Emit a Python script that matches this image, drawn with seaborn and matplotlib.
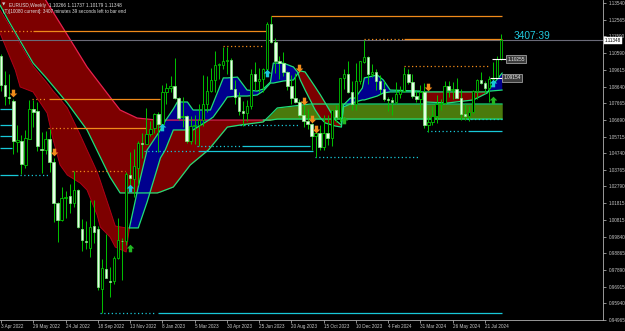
import matplotlib
matplotlib.use("Agg")
import numpy as np
import pandas as pd
import matplotlib.pyplot as plt
from matplotlib.path import Path
import seaborn as sns

# ---------------- data ----------------
opens = [1.1046,1.0876,1.0805,1.0780,1.0540,1.0546,1.0405,1.0560,1.0735,1.0720,
         1.0500,1.0490,1.0555,1.0425,1.0180,1.0083,1.0210,1.0225,1.0180,1.0257,
         1.0030,0.9960,0.9920,1.0045,1.0030,0.9680,0.9795,0.9725,0.9725,0.9860,
         0.9960,0.9960,1.0345,1.0320,1.0390,1.0535,1.0530,1.0585,1.0620,1.0705,
         1.0645,1.0830,1.0855,1.0870,1.0795,1.0685,1.0690,1.0545,1.0635,1.0640,
         1.0670,1.0760,1.0840,1.0900,1.0990,1.0990,1.1015,1.1020,1.0850,1.0805,
         1.0720,1.0710,1.0750,1.0940,1.0895,1.0910,1.0965,1.1230,1.1125,1.1015,
         1.1005,1.0950,1.0870,1.0795,1.0775,1.0700,1.0660,1.0645,1.0575,1.0590,
         1.0510,1.0595,1.0565,1.0725,1.0685,1.0915,1.0940,1.0835,1.0760,1.0895,
         1.1010,1.1040,1.0940,1.0950,1.0895,1.0850,1.0790,1.0785,1.0775,1.0820,
         1.0840,1.0940,1.0890,1.0810,1.0790,1.0835,1.0640,1.0655,1.0690,1.0760,
         1.0770,1.0870,1.0845,1.0850,1.0800,1.0705,1.0690,1.0715,1.0840,1.0905,
         1.0885,1.0855,1.0910,1.0915,1.10266]
highs = [1.1054,1.0955,1.0936,1.0794,1.0642,1.0578,1.0607,1.0788,1.0786,1.0774,
         1.0601,1.0605,1.0615,1.0444,1.0186,1.0278,1.0254,1.0293,1.0368,1.0266,
         1.0090,1.0079,1.0198,1.0197,1.0050,0.9853,0.9999,0.9808,0.9870,1.0093,
         0.9976,1.0364,1.0480,1.0497,1.0545,1.0595,1.0736,1.0660,1.0710,1.0715,
         1.0875,1.0888,1.0929,1.1032,1.0805,1.0805,1.0695,1.0690,1.0700,1.0760,
         1.0930,1.0926,1.0973,1.1075,1.1000,1.1095,1.1095,1.1030,1.0905,1.0830,
         1.0780,1.0785,1.0970,1.1010,1.0975,1.0975,1.1245,1.1276,1.1150,1.1045,
         1.1065,1.0955,1.0930,1.0945,1.0790,1.0770,1.0735,1.0650,1.0620,1.0640,
         1.0695,1.0695,1.0725,1.0755,1.0915,1.0965,1.1017,1.0895,1.1005,1.1015,
         1.1140,1.1045,1.0998,1.0965,1.0935,1.0895,1.0805,1.0805,1.0890,1.0865,
         1.0980,1.0965,1.0940,1.0840,1.0875,1.0885,1.0690,1.0753,1.0812,1.0790,
         1.0895,1.0895,1.0890,1.0915,1.0850,1.0760,1.0750,1.0845,1.0910,1.0948,
         1.0895,1.0925,1.1010,1.1045,1.11737]
lows = [1.0837,1.0757,1.0760,1.0472,1.0483,1.0350,1.0390,1.0556,1.0627,1.0484,
        1.0359,1.0470,1.0365,1.0072,0.9952,1.0077,1.0096,1.0123,1.0160,1.0035,
        0.9900,0.9910,0.9864,0.9945,0.9670,0.9536,0.9740,0.9632,0.9705,0.9855,
        0.9730,0.9935,1.0271,1.0220,1.0290,1.0443,1.0525,1.0575,1.0590,1.0482,
        1.0645,1.0765,1.0835,1.0790,1.0670,1.0630,1.0535,1.0530,1.0525,1.0516,
        1.0635,1.0713,1.0835,1.0835,1.0910,1.0965,1.0940,1.0850,1.0760,1.0700,
        1.0635,1.0665,1.0730,1.0845,1.0835,1.0835,1.0965,1.1120,1.0945,1.0910,
        1.0925,1.0845,1.0765,1.0770,1.0685,1.0630,1.0615,1.0490,1.0450,1.0495,
        1.0495,1.0520,1.0515,1.0655,1.0655,1.0850,1.0825,1.0725,1.0725,1.0880,
        1.1000,1.0880,1.0920,1.0845,1.0820,1.0780,1.0720,1.0695,1.0760,1.0795,
        1.0835,1.0880,1.0800,1.0775,1.0725,1.0622,1.0601,1.0640,1.0650,1.0725,
        1.0765,1.0805,1.0790,1.0800,1.0670,1.0670,1.0665,1.0710,1.0790,1.0880,
        1.0825,1.0775,1.0880,1.0915,1.10179]
closes = [1.0876,1.0808,1.0798,1.0545,1.0551,1.0413,1.0562,1.0732,1.0718,1.0518,
          1.0494,1.0555,1.0425,1.0184,1.0081,1.0212,1.0220,1.0181,1.0259,1.0039,
          0.9966,0.9953,1.0040,1.0015,0.9690,0.9801,0.9740,0.9722,0.9861,0.9966,
          0.9958,1.0354,1.0326,1.0397,1.0535,1.0530,1.0585,1.0615,1.0705,1.0645,
          1.0830,1.0855,1.0870,1.0795,1.0680,1.0694,1.0545,1.0635,1.0640,1.0670,
          1.0760,1.0840,1.0900,1.0990,1.0990,1.1015,1.1020,1.0850,1.0805,1.0720,
          1.0710,1.0750,1.0940,1.0895,1.0910,1.0965,1.1230,1.1125,1.1015,1.1005,
          1.0950,1.0870,1.0795,1.0775,1.0700,1.0660,1.0645,1.0575,1.0590,1.0510,
          1.0595,1.0565,1.0725,1.0685,1.0915,1.0940,1.0835,1.0760,1.0895,1.1015,
          1.1040,1.0940,1.0950,1.0895,1.0850,1.0790,1.0785,1.0775,1.0820,1.0840,
          1.0940,1.0890,1.0810,1.0790,1.0835,1.0640,1.0655,1.0690,1.0760,1.0770,
          1.0870,1.0845,1.0850,1.0800,1.0705,1.0690,1.0715,1.0840,1.0905,1.0885,
          1.0855,1.0910,1.0915,1.1025,1.11348]
weeks = list(range(len(opens)))

# slow cloud
slow_week = [-0.3,1.7,7.9,11.0,14.1,16.4,21.3,27.0,29.5,33.7,38.7,39.5,42.7,46.9,
             51.4,56.1,59.3,65.0,66.8,68.5,76.7,124.3]
slow_line1 = [1.1782,1.1711,1.1483,1.1372,1.1254,1.1167,1.0979,1.0803,1.0727,1.0680,
              1.0668,1.0668,1.0668,1.0668,1.0668,1.0668,1.0668,1.0668,1.0668,1.0674,
              1.0674,1.0674]
slow_line2 = [1.1342,1.1254,1.1002,1.0920,1.0833,1.0768,1.0610,1.0334,1.0241,1.0241,
              1.0241,1.0247,1.0276,1.0405,1.0493,1.0627,1.0639,1.0657,1.0698,1.0739,
              1.0762,1.0762]

# fast cloud
fast_week = [-0.3,3.5,4.7,7.9,11.4,12.9,14.6,16.4,19.6,21.3,
             22.8,23.8,24.6,27.0,28.3,31.0,31.8,34.0,36.2,39.5,
             40.7,42.7,43.7,46.2,47.6,51.9,52.6,55.1,56.1,58.6,
             61.0,63.5,65.0,66.8,67.5,70.0,72.5,73.5,74.2,75.4,
             77.9,79.2,80.4,82.9,84.4,84.9,86.6,87.8,89.6,90.1,
             93.3,94.8,96.5,104.0,105.2,110.7,117.1,120.6,121.3,124.3]
fast_line1 = [1.1178,1.0961,1.0862,1.0833,1.0709,1.0551,1.0405,1.0346,1.0299,1.0258,
              1.0170,1.0112,1.0041,0.9983,0.9924,0.9895,1.0036,1.0276,1.0493,1.0610,
              1.0663,1.0733,1.0774,1.0774,1.0727,1.0727,1.0768,1.0915,1.0915,1.0920,
              1.0844,1.0838,1.0850,1.0891,1.1002,1.1002,1.0979,1.0950,1.0903,1.0844,
              1.0727,1.0680,1.0651,1.0633,1.0627,1.0756,1.0797,1.0797,1.0856,1.0915,
              1.0932,1.0903,1.0844,1.0838,1.0774,1.0768,1.0786,1.0827,1.0856,1.0944]
fast_line2 = [1.1313,1.1167,1.1114,1.0985,1.0885,1.0838,1.0792,1.0739,1.0581,1.0493,
              1.0416,1.0364,1.0311,1.0141,1.0047,1.0036,1.0036,1.0036,1.0188,1.0446,
              1.0493,1.0610,1.0610,1.0610,1.0610,1.0674,1.0686,1.0768,1.0803,1.0809,
              1.0809,1.0815,1.0838,1.0885,1.0885,1.0897,1.0903,1.0938,1.0956,1.0950,
              1.0862,1.0815,1.0768,1.0668,1.0639,1.0745,1.0762,1.0774,1.0786,1.0786,
              1.0809,1.0827,1.0833,1.0833,1.0833,1.0833,1.0833,1.0833,1.0838,1.0844]

# resistance (orange) and support (cyan) levels
res_dot_price = [1.1190,1.1102,1.1143,1.0985,1.0791,1.0622,1.0370]
res_dot_from  = [-0.3,55.0,90.0,100.0,7.7,11.7,17.6]
res_dot_to    = [7.7,65.0,99.8,121.3,11.4,17.6,30.8]
res_sol_price = [1.1190,1.1276,1.1143,1.0791,1.0622]
res_sol_from  = [7.9,67.0,100.0,11.9,17.9]
res_sol_to    = [66.2,124.3,124.3,39.5,36.0]

sup_dot_price = [1.0346,0.9538,1.0487,1.0516,1.0639,1.0452,1.0604,1.0674]
sup_dot_from  = [4.7,24.6,35.5,48.6,59.3,77.9,105.7,115.6]
sup_dot_to    = [12.2,38.2,48.0,59.3,73.7,104.0,115.6,124.3]
sup_sol_price = [1.0733,1.0639,1.0575,1.0504,1.0346,0.9538,1.0487,1.0516,1.0604]
sup_sol_from  = [-0.3,-0.3,-0.3,-0.3,-0.3,39.0,48.9,59.8,115.9]
sup_sol_to    = [2.7,2.7,2.7,2.7,4.2,124.3,77.4,76.7,124.3]

# signal arrows
sell_week = [3,13,74,75,77,78,106]
sell_price = [1.0827,1.0481,1.0973,1.0780,1.0674,1.0616,1.0862]
buy_week = [32,40,66,122]
buy_price = [1.0270,1.0627,1.0944,1.0885]
buy2_week = [32,85,122]
buy2_price = [0.9918,1.0668,1.0786]

# price tags
tag_price = [1.10255,1.09154]
tag_from = [121.8,121.3]
tag_to = [125.3,124.3]
tag_text = ["1.10255","1.09154"]

current_price = 1.11348
tick_prices = [1.13540,1.12565,1.11590,1.10590,1.09615,1.08640,1.07665,1.06690,
               1.05715,1.04740,1.03765,1.02790,1.01815,1.00815,0.99840,0.98865,
               0.97890,0.96915,0.95940,0.94965]
date_weeks = [0,8,16,24,32,40,48,56,64,72,80,88,96,104,112,120]
date_labels = ["3 Apr 2022","29 May 2022","24 Jul 2022","18 Sep 2022","13 Nov 2022",
               "8 Jan 2023","5 Mar 2023","30 Apr 2023","25 Jun 2023","20 Aug 2023",
               "15 Oct 2023","10 Dec 2023","4 Feb 2024","31 Mar 2024","26 May 2024",
               "21 Jul 2024"]
header1 = "EURUSD,Weekly  1.10266 1.11737 1.10179 1.11348"
header2 = "(T)[10080 current]: 3407 minutes 39 seconds left to bar end"
timer_text = "3407:39"

# ---------------- style ----------------
sns.set_theme(style="dark", rc={"axes.facecolor": "black", "figure.facecolor": "black",
                                 "savefig.facecolor": "black", "axes.grid": False})
plt.rcParams['font.family'] = ['Liberation Sans', 'DejaVu Sans']

RED_FILL = "#7d0000"
BLUE_FILL = "#00008e"
OLIVE_FILL = "#4a7a0c"
EDGE_GREEN = "#1ee07a"
EDGE_RED = "#e8204e"
ORANGE = "#f08a1a"
CYAN = "#18c8d8"

# block-arrow marker shapes
DOWN_ARROW = Path([(-0.22, 0.5), (0.22, 0.5), (0.22, 0.0), (0.5, 0.0), (0.0, -0.5),
                   (-0.5, 0.0), (-0.22, 0.0), (-0.22, 0.5)], closed=True)
UP_ARROW = Path([(-0.22, -0.5), (0.22, -0.5), (0.22, 0.0), (0.5, 0.0), (0.0, 0.5),
                 (-0.5, 0.0), (-0.22, 0.0), (-0.22, -0.5)], closed=True)

fig = plt.figure(figsize=(6.25, 3.31), dpi=100)
ax = fig.add_axes([0, 11/331, 603/625, 320/331])
ax.set_facecolor("black")

# slow cloud
sw = np.array(slow_week); s1 = np.array(slow_line1); s2 = np.array(slow_line2)
ax.fill_between(sw, s1, s2, where=s1 >= s2, interpolate=True, color=RED_FILL, lw=0, zorder=1)
ax.fill_between(sw, s1, s2, where=s1 < s2, interpolate=True, color=OLIVE_FILL, lw=0, zorder=1)
df_s = pd.DataFrame({"w": sw, "l1": s1, "l2": s2})
red_part = df_s[df_s.w <= 66.8]
green_part = df_s[df_s.w >= 65.0]
sns.lineplot(data=red_part, x="w", y="l1", ax=ax, color=EDGE_RED, lw=0.9, estimator=None, sort=False, zorder=2)
sns.lineplot(data=green_part, x="w", y="l1", ax=ax, color=EDGE_GREEN, lw=0.9, estimator=None, sort=False, zorder=2)
sns.lineplot(data=df_s, x="w", y="l2", ax=ax, color=EDGE_GREEN, lw=0.9, estimator=None, sort=False, zorder=2)

# fast cloud
fw = np.array(fast_week); f1 = np.array(fast_line1); f2 = np.array(fast_line2)
ax.fill_between(fw, f1, f2, where=f1 <= f2, interpolate=True, color=RED_FILL, lw=0, zorder=1.5)
ax.fill_between(fw, f1, f2, where=f1 > f2, interpolate=True, color=BLUE_FILL, lw=0, zorder=1.5)
df_f = pd.DataFrame({"w": fw, "l1": f1, "l2": f2})
early = df_f[df_f.w <= 31.8]
late = df_f[df_f.w >= 31.8]
sns.lineplot(data=early, x="w", y="l1", ax=ax, color="#b00018", lw=0.7, estimator=None, sort=False, zorder=2)
sns.lineplot(data=early, x="w", y="l2", ax=ax, color="#b00018", lw=0.7, estimator=None, sort=False, zorder=2)
sns.lineplot(data=late, x="w", y="l1", ax=ax, color=EDGE_GREEN, lw=0.9, estimator=None, sort=False, zorder=2)
sns.lineplot(data=late, x="w", y="l2", ax=ax, color=EDGE_GREEN, lw=0.9, estimator=None, sort=False, zorder=2)

# levels
DOT = (0, (1, 2))
ax.hlines(res_dot_price, res_dot_from, res_dot_to, colors=ORANGE, lw=0.9, linestyles=[DOT], zorder=3)
ax.hlines(res_sol_price, res_sol_from, res_sol_to, colors=ORANGE, lw=0.9, zorder=3)
ax.hlines(sup_dot_price, sup_dot_from, sup_dot_to, colors=CYAN, lw=0.9, linestyles=[DOT], zorder=3)
ax.hlines(sup_sol_price, sup_sol_from, sup_sol_to, colors=CYAN, lw=0.9, zorder=3)

# current price line
ax.axhline(current_price, color="#6a6a78", lw=0.8, zorder=2.5)

# candles
o = np.array(opens); h = np.array(highs); l = np.array(lows); c = np.array(closes)
w = np.array(weeks)
ax.vlines(w, l, h, colors="#00c400", lw=0.7, zorder=4)
bull = c >= o
bw = 0.6
body_lo = np.minimum(o, c)
body_h = np.maximum(np.abs(c - o), 0.0004)
ax.bar(w[bull], body_h[bull], bottom=body_lo[bull], width=bw, color="black",
       edgecolor="#00c400", linewidth=0.6, zorder=5)
ax.bar(w[~bull], body_h[~bull], bottom=body_lo[~bull], width=bw, color="#e6ffe6",
       edgecolor="#80f080", linewidth=0.5, zorder=5)

# arrows
ax.scatter(sell_week, sell_price, marker=DOWN_ARROW, s=30, color=ORANGE, linewidths=0, zorder=6)
ax.scatter(buy_week, buy_price, marker=UP_ARROW, s=30, color=CYAN, linewidths=0, zorder=6)
ax.scatter(buy2_week, buy2_price, marker=UP_ARROW, s=30, color="#22b822", linewidths=0, zorder=6)

# price tags
for p, a, b, t in zip(tag_price, tag_from, tag_to, tag_text):
    ax.hlines(p, a, b, colors="white", lw=0.8, zorder=6)
    ax.text(b + 0.3, p, t, fontsize=3.4, color="#e8e8e8", ha="left", va="center",
            bbox=dict(boxstyle="square,pad=0.25", fc="#3c3c3c", ec="#b8b8b8", lw=0.5), zorder=7)

# timer
ax.text(127.0, 1.1163, timer_text, color="#22c8dc", fontsize=7.3, ha="left", va="center", zorder=7)

# axes
ax.set_xlim(-0.3, 149.3)
ax.set_ylim(0.94965, 1.13716)
ax.yaxis.tick_right()
ax.set_yticks(tick_prices)
ax.set_yticklabels([f"{v:.5f}" for v in tick_prices])
ax.set_xticks(date_weeks)
ax.set_xticklabels(date_labels)
for lab in ax.get_xticklabels():
    lab.set_horizontalalignment("left")
ax.tick_params(axis="y", colors="#c8c8c8", labelsize=3.3, length=2.5, width=0.5, pad=1.5,
               right=True, left=False)
ax.tick_params(axis="x", colors="#c8c8c8", labelsize=3.3, length=2, width=0.5, pad=1.0,
               bottom=True)
ax.set_xlabel(""); ax.set_ylabel("")
for side in ["top", "left"]:
    ax.spines[side].set_visible(False)
for side in ["right", "bottom"]:
    ax.spines[side].set_visible(True)
    ax.spines[side].set_color("#b0b0b0")
    ax.spines[side].set_linewidth(0.6)

# current price label
ax.text(1.003, current_price, f"{current_price:.5f}", transform=ax.get_yaxis_transform(),
        fontsize=3.3, color="black", ha="left", va="center",
        bbox=dict(boxstyle="square,pad=0.2", fc="white", ec="white", lw=0.3), zorder=8,
        clip_on=False)

# header
fig.text(2/625, 1 - 5/331, "\u25BC", fontsize=3.2, color="#d0d0d0", ha="left", va="center",
         family="DejaVu Sans")
fig.text(9/625, 1 - 5/331, header1, fontsize=3.4, color="#e0e0e0", ha="left", va="center")
fig.text(3/625, 1 - 11/331, header2, fontsize=3.3, color="#e0e0e0", ha="left", va="center")

fig.savefig("out.png", dpi=100, facecolor="black")
